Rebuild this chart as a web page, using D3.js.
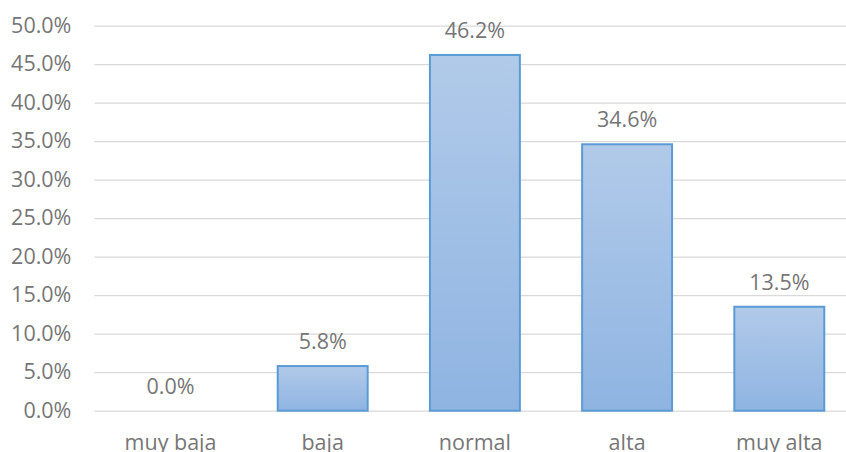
<!DOCTYPE html>
<html>
<head>
<meta charset="utf-8">
<script src="https://cdn.jsdelivr.net/npm/d3@7"></script>
<style>
  html, body { margin: 0; padding: 0; background: #fff; }
  svg { display: block; }
  text { font-family: "Open Sans", "Noto Sans", sans-serif; }
</style>
</head>
<body>
<svg id="chart" width="846" height="452"></svg>
<script>
// Distribution by level (percent of respondents)
const categories = ["muy baja", "baja", "normal", "alta", "muy alta"];
const values = [0.0, 5.8, 46.2, 34.6, 13.5];
const yTicks = [0, 5, 10, 15, 20, 25, 30, 35, 40, 45, 50];

(function () {
  const svg = d3.select("#chart");
  const plotLeft = 94.4, plotRight = 855.4, plotTop = 25.7, plotBottom = 410.7;
  const textColor = "#767676";
  const fontSize = "21.5px";

  const x = d3.scaleBand()
    .domain(categories)
    .range([plotLeft, plotRight])
    .paddingInner(0.409)
    .paddingOuter(0.2045);

  const y = d3.scaleLinear().domain([0, 50]).range([plotBottom, plotTop]);

  // Bar fill: soft vertical gradient
  const defs = svg.append("defs");
  const grad = defs.append("linearGradient")
    .attr("id", "barFill").attr("x1", 0).attr("y1", 0).attr("x2", 0).attr("y2", 1);
  grad.append("stop").attr("offset", "0%").attr("stop-color", "#b1cae9");
  grad.append("stop").attr("offset", "100%").attr("stop-color", "#8fb4e2");

  // Horizontal gridlines and y labels
  const yAxis = d3.axisLeft(y)
    .tickValues(yTicks)
    .tickSize(-(plotRight - plotLeft))
    .tickPadding(23)
    .tickFormat(d => d.toFixed(1) + "%");

  const gy = svg.append("g")
    .attr("transform", `translate(${plotLeft},0)`)
    .call(yAxis);
  gy.select(".domain").remove();
  gy.selectAll(".tick line").attr("stroke", "#d9d9d9").attr("stroke-width", 1.3);
  gy.selectAll(".tick text")
    .attr("fill", textColor)
    .attr("dy", "0.3em")
    .style("font-size", fontSize);

  // Category labels
  const xAxis = d3.axisBottom(x).tickSize(0).tickPadding(0);
  const gx = svg.append("g")
    .attr("transform", `translate(0,${plotBottom})`)
    .call(xAxis);
  gx.select(".domain").remove();
  gx.selectAll(".tick text")
    .attr("fill", textColor)
    .attr("y", 39)
    .attr("dy", 0)
    .style("font-size", fontSize);

  const rows = categories.map((c, i) => ({ c, v: values[i] }));

  // Bars
  svg.append("g").selectAll("rect")
    .data(rows)
    .join("rect")
    .attr("x", d => x(d.c))
    .attr("y", d => y(d.v))
    .attr("width", x.bandwidth())
    .attr("height", d => y(0) - y(d.v))
    .attr("fill", "url(#barFill)")
    .attr("stroke", d => d.v > 0 ? "#5b9bd5" : "none")
    .attr("stroke-width", 2);

  // Value labels
  svg.append("g").selectAll("text")
    .data(rows)
    .join("text")
    .attr("x", d => x(d.c) + x.bandwidth() / 2)
    .attr("y", d => y(d.v) - 17)
    .attr("text-anchor", "middle")
    .attr("fill", textColor)
    .style("font-size", fontSize)
    .text(d => d.v.toFixed(1) + "%");
})();
</script>
</body>
</html>
